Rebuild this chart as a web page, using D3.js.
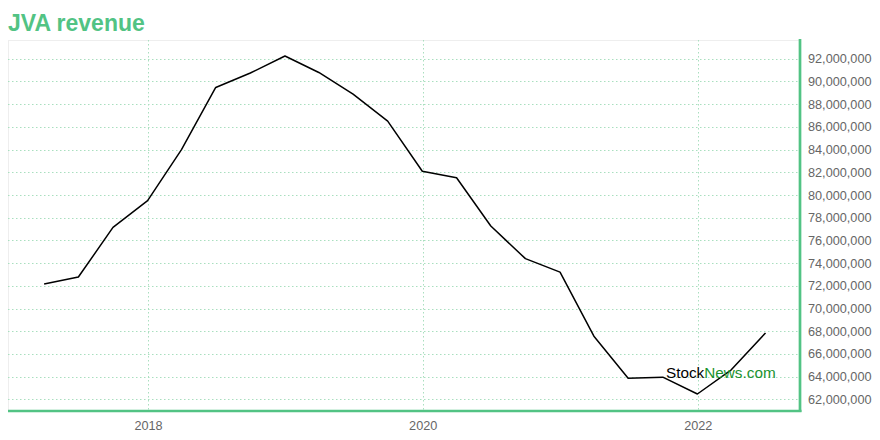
<!DOCTYPE html>
<html>
<head>
<meta charset="utf-8">
<script src="https://cdn.jsdelivr.net/npm/d3@7/dist/d3.min.js"></script>
<style>
  html, body { margin: 0; padding: 0; background: #ffffff; }
  svg { display: block; }
</style>
</head>
<body>
<svg id="chart" width="880" height="440"></svg>
<script>
// ---- data ----
const titleText = "JVA revenue";
const quarterDates = [
  "2017-03-31","2017-06-30","2017-09-30","2017-12-31",
  "2018-03-31","2018-06-30","2018-09-30","2018-12-31",
  "2019-03-31","2019-06-30","2019-09-30","2019-12-31",
  "2020-03-31","2020-06-30","2020-09-30","2020-12-31",
  "2021-03-31","2021-06-30","2021-09-30","2021-12-31",
  "2022-03-31","2022-06-30"
];
const revenue = [
  72150000, 72770000, 77140000, 79500000,
  84000000, 89470000, 90740000, 92240000,
  90790000, 88880000, 86500000, 82090000,
  81520000, 77270000, 74390000, 73200000,
  67560000, 63860000, 63950000, 62470000,
  64600000, 67850000
];
const yTickValues = [62e6,64e6,66e6,68e6,70e6,72e6,74e6,76e6,78e6,80e6,82e6,84e6,86e6,88e6,90e6,92e6];
const xTickYears = [2018, 2020, 2022];
const xDomain = ["2016-12-25", "2022-09-27"];
const yDomain = [61060000, 93650000];

// ---- layout ----
const svg = d3.select("#chart");
const L = 8, R = 799, T = 40, B = 410;
const parse = d3.timeParse("%Y-%m-%d");
const data = quarterDates.map((d, i) => ({ date: parse(d), value: revenue[i] }));

const x = d3.scaleTime().domain(xDomain.map(parse)).range([L, R]);
const y = d3.scaleLinear().domain(yDomain).range([B, T]);

const green = "#52c384";
const gridColor = "#a9dfbf";

// title
svg.append("text")
  .attr("x", 8).attr("y", 31)
  .attr("font-family", "Liberation Sans, Arial, sans-serif")
  .attr("font-weight", "bold")
  .attr("font-size", 23)
  .attr("fill", green)
  .text(titleText);

// plot border (light)
svg.append("line").attr("x1", L).attr("x2", R).attr("y1", T + 0.5).attr("y2", T + 0.5)
  .attr("stroke", "#eeeeee").attr("stroke-width", 1);
svg.append("line").attr("x1", L + 0.5).attr("x2", L + 0.5).attr("y1", T).attr("y2", B)
  .attr("stroke", "#eeeeee").attr("stroke-width", 1);

// horizontal grid
svg.append("g").selectAll("line").data(yTickValues).join("line")
  .attr("x1", L).attr("x2", R)
  .attr("y1", d => Math.round(y(d)) + 0.5).attr("y2", d => Math.round(y(d)) + 0.5)
  .attr("stroke", gridColor).attr("stroke-width", 1)
  .attr("stroke-dasharray", "1.5,2.5");

// vertical grid
const xTicks = xTickYears.map(yr => new Date(yr, 0, 1));
svg.append("g").selectAll("line").data(xTicks).join("line")
  .attr("x1", d => Math.round(x(d)) + 0.5).attr("x2", d => Math.round(x(d)) + 0.5)
  .attr("y1", T).attr("y2", B)
  .attr("stroke", gridColor).attr("stroke-width", 1)
  .attr("stroke-dasharray", "1.5,2.5");

// line
const line = d3.line().x(d => x(d.date)).y(d => y(d.value));
svg.append("path").datum(data)
  .attr("d", line)
  .attr("fill", "none")
  .attr("stroke", "#000000")
  .attr("stroke-width", 1.5)
  .attr("stroke-linejoin", "round");

// watermark
const wm = svg.append("text")
  .attr("x", 666).attr("y", 378)
  .attr("font-family", "Liberation Sans, Arial, sans-serif")
  .attr("font-size", 15.3);
wm.append("tspan").attr("fill", "#000000").text("Stock");
wm.append("tspan").attr("fill", "#1a922f").text("News.com");

// right axis
const yAxis = d3.axisRight(y).tickValues(yTickValues).tickSize(0).tickPadding(8)
  .tickFormat(d3.format(",.0f"));
const gy = svg.append("g").attr("transform", `translate(${R + 1},0)`).call(yAxis);
gy.select(".domain").remove();
gy.selectAll("text")
  .attr("font-family", "Liberation Sans, Arial, sans-serif")
  .attr("font-size", 12.7)
  .attr("fill", "#666666");

// bottom axis
const xAxis = d3.axisBottom(x).tickValues(xTicks).tickSize(0).tickPadding(10)
  .tickFormat(d3.timeFormat("%Y"));
const gx = svg.append("g").attr("transform", `translate(0,${B + 1})`).call(xAxis);
gx.select(".domain").remove();
gx.selectAll("text")
  .attr("font-family", "Liberation Sans, Arial, sans-serif")
  .attr("font-size", 12.7)
  .attr("fill", "#666666");

// green axis lines
svg.append("line").attr("x1", L).attr("x2", R + 2.5).attr("y1", B + 1).attr("y2", B + 1)
  .attr("stroke", green).attr("stroke-width", 2.7);
svg.append("line").attr("x1", R + 1).attr("x2", R + 1).attr("y1", T - 1).attr("y2", B + 2)
  .attr("stroke", green).attr("stroke-width", 2.7);
</script>
</body>
</html>
